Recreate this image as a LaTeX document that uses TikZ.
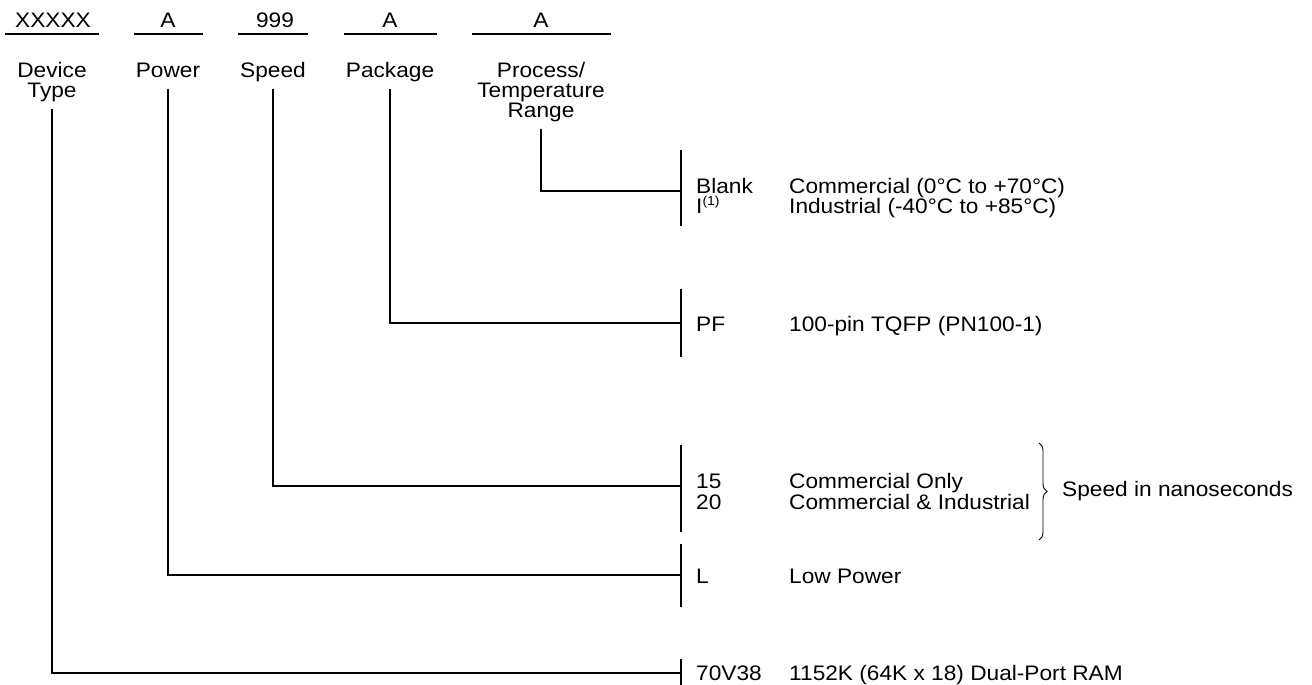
\documentclass[tikz,border=0pt]{standalone}
\usepackage{fontspec}
\setmainfont[FakeStretch=1.08]{Liberation Sans}
\usetikzlibrary{decorations.pathreplacing}
\begin{document}
\begin{tikzpicture}[x=1pt,y=-1pt,
  font=\fontsize{21}{20}\selectfont,
  code/.style={inner sep=0pt, anchor=base},
  field/.style={inner sep=0pt, outer sep=7pt, anchor=north, align=center, text depth=4.5pt},
  opt/.style={inner sep=0pt, anchor=base west},
  wire/.style={line width=1.1pt},
  tick/.style={line width=1.1pt}]
\useasboundingbox (0,0) rectangle (1312,685);
% code letters with underlines
\node[code] (c1) at (53,28) {XXXXX};
\node[code] (c2) at (168,28) {A};
\node[code] (c3) at (275,28) {999};
\node[code] (c4) at (390,28) {A};
\node[code] (c5) at (541,28) {A};
\draw[wire] (5,34) -- (99,34);
\draw[wire] (134,34) -- (203,34);
\draw[wire] (238,34) -- (308,34);
\draw[wire] (344,34) -- (437,34);
\draw[wire] (472,34) -- (611,34);
% field names
\node[field] (f1) at (52,55) {Device\\Type};
\node[field] (f2) at (168,56) {Power};
\node[field] (f3) at (273,55) {Speed};
\node[field] (f4) at (390,55) {Package};
\node[field] (f5) at (541,55) {Process/\\Temperature\\Range};
% ticks
\coordinate (t5) at (681,191);
\coordinate (t4) at (681,323);
\coordinate (t3) at (681,486);
\coordinate (t2) at (681,575);
\coordinate (t1) at (681,673);
\draw[tick] (681,150) -- (681,226);
\draw[tick] (681,289) -- (681,357);
\draw[tick] (681,445) -- (681,532);
\draw[tick] (681,544) -- (681,607);
\draw[tick] (681,659) -- (681,685);
% connectors
\draw[wire] (f5.south) |- (t5);
\draw[wire] (f4.south) |- (t4);
\draw[wire] (f3.south) |- (t3);
\draw[wire] (f2.south) |- (t2);
\draw[wire] (f1.south) |- (t1);
% options
\node[opt] (o5a) at (696,193) {Blank};
\node[opt] (o5b) at (696,213) {I\textsuperscript{\fontsize{13}{13}\selectfont(1)}};
\node[opt] (d5a) at (789,193) {Commercial (0°C to +70°C)};
\node[opt] (d5b) at (789,213) {Industrial (-40°C to +85°C)};
\node[opt] (o4) at (696,331) {PF};
\node[opt] (d4) at (789,331) {100-pin TQFP (PN100-1)};
\node[opt] (o3a) at (696,488) {15};
\node[opt] (o3b) at (696,509) {20};
\node[opt] (d3a) at (789,488) {Commercial Only};
\node[opt] (d3b) at (789,509) {Commercial \& Industrial};
\draw[line width=0.9pt, decorate, decoration={brace, amplitude=8pt}] (1039,443) -- (1039,540);
\node[opt, anchor=west] (sp) at (1062,491) {Speed in nanoseconds};
\node[opt] (o2) at (696,583) {L};
\node[opt] (d2) at (789,583) {Low Power};
\node[opt] (o1) at (696,680) {70V38};
\node[opt] (d1) at (789,680) {1152K (64K x 18) Dual-Port RAM};
\end{tikzpicture}
\end{document}
